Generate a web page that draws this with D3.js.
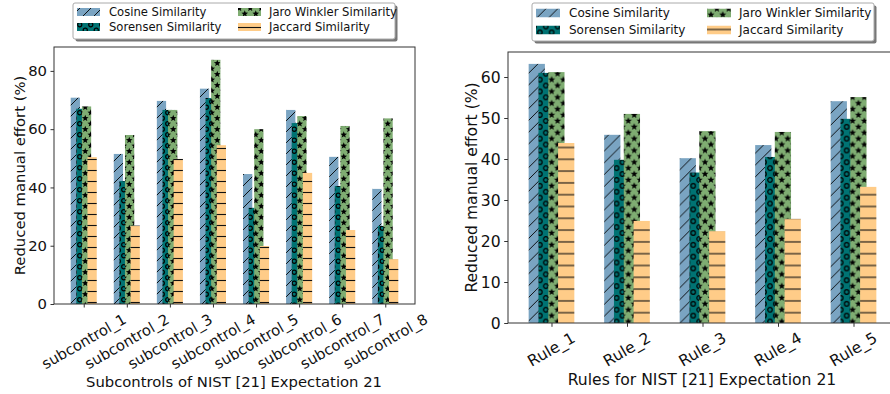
<!DOCTYPE html>
<html><head><meta charset="utf-8">
<script src="https://cdn.jsdelivr.net/npm/d3@7"></script>
<style>body{margin:0;background:#fff}svg{display:block;font-family:"DejaVu Sans",sans-serif}</style>
</head><body><svg id="c" width="890" height="394"></svg>
<script>
const seriesNames = ["Cosine Similarity","Sorensen Similarity","Jaro Winkler Similarity","Jaccard Similarity"];
const categoriesL = ["subcontrol_1","subcontrol_2","subcontrol_3","subcontrol_4","subcontrol_5","subcontrol_6","subcontrol_7","subcontrol_8"];
const cosineL   = [70.8, 51.5, 69.7, 73.9, 44.6, 66.6, 50.5, 39.5];
const sorensenL = [67.0, 42.2, 66.6, 70.7, 33.0, 62.1, 40.5, 26.8];
const jaroL     = [67.8, 58.0, 66.6, 83.8, 60.0, 64.5, 61.1, 63.7];
const jaccardL  = [50.4, 26.9, 49.8, 54.5, 19.9, 45.0, 25.4, 15.4];
const ticksL = [0,20,40,60,80];

const categoriesR = ["Rule_1","Rule_2","Rule_3","Rule_4","Rule_5"];
const cosineR   = [63.2, 45.9, 40.2, 43.4, 54.1];
const sorensenR = [61.0, 39.8, 36.7, 40.5, 49.8];
const jaroR     = [61.2, 51.0, 46.8, 46.6, 55.1];
const jaccardR  = [43.9, 24.9, 22.4, 25.4, 33.2];
const ticksR = [0,10,20,30,40,50,60];

const colors = ["#7aa4c2","#007373","#7fad72","#ffcc88"];
const svg = d3.select("#c");
const defs = svg.append("defs");

function starPath(cx, cy, R, r){
  let p = "";
  for (let i=0;i<10;i++){
    const a = -Math.PI/2 + i*Math.PI/5;
    const rad = i%2===0?R:r;
    p += (i===0?"M":"L") + (cx+rad*Math.cos(a)).toFixed(2)+","+(cy+rad*Math.sin(a)).toFixed(2);
  }
  return p+"Z";
}

function makePatterns(pre, s){
  let p = defs.append("pattern").attr("id",pre+"0").attr("patternUnits","userSpaceOnUse").attr("width",s).attr("height",s);
  p.append("rect").attr("width",s).attr("height",s).attr("fill",colors[0]);
  p.append("path").attr("d",`M0,${s} L${s},0 M${-s/2},${s/2} L${s/2},${-s/2} M${s/2},${s*1.5} L${s*1.5},${s/2}`)
    .attr("stroke","#000").attr("stroke-width",0.9);
  p = defs.append("pattern").attr("id",pre+"1").attr("patternUnits","userSpaceOnUse").attr("width",s).attr("height",s);
  p.append("rect").attr("width",s).attr("height",s).attr("fill",colors[1]);
  const cr = s*0.19;
  [[s*0.25,s*0.25],[s*0.75,s*0.75],[s*0.75-s,s*0.75],[s*0.25+s,s*0.25]].forEach(([x,y])=>{
    p.append("circle").attr("cx",x).attr("cy",y).attr("r",cr).attr("fill","none").attr("stroke","#000").attr("stroke-width",1.2);
  });
  p = defs.append("pattern").attr("id",pre+"2").attr("patternUnits","userSpaceOnUse").attr("width",s).attr("height",s);
  p.append("rect").attr("width",s).attr("height",s).attr("fill",colors[2]);
  const R = s*0.32, r = R*0.42;
  [[s*0.25,s*0.25],[s*0.75,s*0.75],[s*0.25+s,s*0.25],[s*0.75-s,s*0.75],[s*0.25,s*1.25],[s*0.75,s*-0.25]].forEach(([x,y])=>{
    p.append("path").attr("d",starPath(x,y,R,r)).attr("fill","#000");
  });
  p = defs.append("pattern").attr("id",pre+"3").attr("patternUnits","userSpaceOnUse").attr("width",s).attr("height",s);
  p.append("rect").attr("width",s).attr("height",s).attr("fill",colors[3]);
  p.append("line").attr("x1",0).attr("x2",s).attr("y1",s/2).attr("y2",s/2).attr("stroke","#111").attr("stroke-width",1.1);
}
makePatterns("pL", 11);
makePatterns("pR", 11.8);

const offsets = [-0.195,-0.065,0.065,0.195];
const barW = 0.215;

function chart(o){
  const g = svg.append("g");
  const x = d3.scaleLinear().domain(o.xdom).range(o.xr);
  const y = d3.scaleLinear().domain(o.ydom).range(o.yr);
  o.series.forEach((vals, si)=>{
    g.selectAll(null).data(vals).enter().append("rect")
      .attr("x",(d,i)=>x(i+offsets[si]-barW/2))
      .attr("width",(d,i)=>x(i+offsets[si]+barW/2)-x(i+offsets[si]-barW/2))
      .attr("y",d=>y(d)).attr("height",d=>y(0)-y(d))
      .attr("fill",`url(#${o.pre}${si})`);
  });
  g.append("rect").attr("x",o.xr[0]).attr("y",o.yr[1]).attr("width",o.xr[1]-o.xr[0]).attr("height",o.yr[0]-o.yr[1])
    .attr("fill","none").attr("stroke","#333").attr("stroke-width",1);
  const ya = d3.axisLeft(y).tickValues(o.yticks).tickSize(o.tick).tickPadding(o.pad);
  const yg = g.append("g").attr("transform",`translate(${o.xr[0]},0)`).call(ya);
  yg.select(".domain").remove();
  yg.selectAll("line").attr("stroke","#333");
  yg.selectAll("text").attr("font-family","DejaVu Sans").attr("font-size",o.fs).attr("fill","#111");
  const xa = d3.axisBottom(x).tickValues(d3.range(o.cats.length)).tickSize(o.tick).tickFormat(()=>"");
  const xg = g.append("g").attr("transform",`translate(0,${o.yr[0]})`).call(xa);
  xg.select(".domain").remove();
  xg.selectAll("line").attr("stroke","#333");
  o.cats.forEach((c,i)=>{
    const t = g.append("text").text(c).attr("font-size",o.fs).attr("fill","#111")
      .attr("text-anchor","middle").attr("dominant-baseline","central");
    const w = t.node().getComputedTextLength();
    const h = o.fs*1.0;
    const bh = w*0.5 + h*0.866;
    const cx = x(i), cy = o.yr[0] + o.labTop + bh/2;
    t.attr("transform",`translate(${cx},${cy}) rotate(-30)`);
  });
  g.append("text").text(o.xtitle).attr("x",o.xtX).attr("y",o.xtY).attr("text-anchor","middle")
    .attr("dominant-baseline","central").attr("font-size",o.fs).attr("fill","#111");
  g.append("text").text("Reduced manual effort (%)").attr("text-anchor","middle").attr("dominant-baseline","central")
    .attr("transform",`translate(${o.ytX},${(o.yr[0]+o.yr[1])/2}) rotate(-90)`).attr("font-size",o.fs).attr("fill","#111");
  const L = o.leg;
  const lg = svg.append("g");
  lg.append("rect").attr("x",L.x+2.5).attr("y",L.y+2.5).attr("width",L.w).attr("height",L.h).attr("rx",2).attr("fill","#777");
  lg.append("rect").attr("x",L.x).attr("y",L.y).attr("width",L.w).attr("height",L.h).attr("rx",2).attr("fill","#fff").attr("stroke","#aaa").attr("stroke-width",1);
  seriesNames.forEach((n,si)=>{
    const col = si<2 ? 0 : 1;
    const row = si%2;
    const px = L.colX[col], py = L.rowY[row];
    lg.append("rect").attr("x",px).attr("y",py-L.ph/2).attr("width",L.pw).attr("height",L.ph).attr("fill",`url(#${o.pre}${si})`);
    lg.append("text").text(n).attr("x",L.textX[col]).attr("y",py).attr("dominant-baseline","central")
      .attr("font-size",L.fs).attr("fill","#111");
  });
}

chart({pre:"pL", series:[cosineL,sorensenL,jaroL,jaccardL], cats:categoriesL, yticks:ticksL,
  xdom:[-0.69,7.69], xr:[54,415], ydom:[0,88.2], yr:[304,47], tick:3.5, pad:3.5, fs:14.8, labTop:7,
  xtitle:"Subcontrols of NIST [21] Expectation 21", xtX:234, xtY:381, ytX:19,
  leg:{x:73,y:3,w:322,h:36,colX:[77,238],textX:[109,269],rowY:[12,27],pw:23,ph:8,fs:11.6}});

chart({pre:"pR", series:[cosineR,sorensenR,jaroR,jaccardR], cats:categoriesR, yticks:ticksR,
  xdom:[-0.576,4.576], xr:[508,897], ydom:[0,66.1], yr:[323,52], tick:3.8, pad:3.5, fs:15.6, labTop:7,
  xtitle:"Rules for NIST [21] Expectation 21", xtX:702, xtY:380, ytX:472,
  leg:{x:532,y:3,w:342,h:38,colX:[536,707],textX:[569,739],rowY:[13,30],pw:24,ph:8.5,fs:12}});
</script></body></html>
